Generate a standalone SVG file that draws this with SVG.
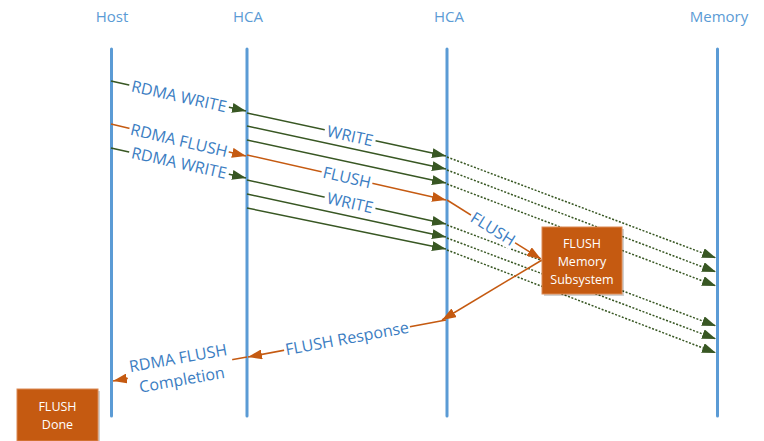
<svg xmlns="http://www.w3.org/2000/svg" width="764" height="441" viewBox="0 0 764 441">
<defs>
<style>
.life{stroke:#5B9BD5;stroke-width:3;stroke-linecap:round;fill:none}
.hdr{font-family:"Open Sans","Noto Sans",sans-serif;font-size:15px;fill:#5B9BD5;text-anchor:middle}
.g{stroke:#385723;stroke-width:1.5;fill:none;marker-end:url(#ag)}
.gd{stroke:#385723;stroke-width:1.5;fill:none;stroke-dasharray:2 1.6;marker-end:url(#ag)}
.o{stroke:#C55A11;stroke-width:1.5;fill:none;marker-end:url(#ao)}
.lbl{font-family:"Open Sans","Noto Sans",sans-serif;font-size:16px;fill:#3B7DC2;text-anchor:middle}
.bg{fill:#fff}
.box{fill:#C55A11;stroke:#DC8A55;stroke-width:1}
.shadow{fill:#000;opacity:0.18}
.bt{font-family:"Open Sans","Noto Sans",sans-serif;font-size:12.5px;fill:#fff;text-anchor:middle}
</style>
<marker id="ag" viewBox="0 0 14 10" refX="14" refY="5" markerWidth="14" markerHeight="10" markerUnits="userSpaceOnUse" orient="auto"><path d="M0,0 L14,5 L0,10 z" fill="#385723"/></marker>
<marker id="ao" viewBox="0 0 14 10" refX="14" refY="5" markerWidth="14" markerHeight="10" markerUnits="userSpaceOnUse" orient="auto"><path d="M0,0 L14,5 L0,10 z" fill="#C55A11"/></marker>
</defs>

<g id="lifelines">
<g id="host"><text class="hdr" x="112" y="22">Host</text><line class="life" x1="111.5" y1="49" x2="111.5" y2="416"/></g>
<g id="hca1"><text class="hdr" x="248" y="22">HCA</text><line class="life" x1="247" y1="49" x2="247" y2="416"/></g>
<g id="hca2"><text class="hdr" x="449" y="22">HCA</text><line class="life" x1="447" y1="49" x2="447" y2="416"/></g>
<g id="memory"><text class="hdr" x="719" y="22">Memory</text><line class="life" x1="717.5" y1="49" x2="717.5" y2="416"/></g>
</g>

<g id="connectors">
<line class="g" x1="111" y1="81" x2="246" y2="111"/>
<line class="o" x1="111" y1="124" x2="246" y2="156"/>
<line class="g" x1="111" y1="148" x2="246" y2="178"/>

<line class="g" x1="247" y1="113" x2="446" y2="156"/>
<line class="g" x1="247" y1="126" x2="446" y2="169"/>
<line class="g" x1="247" y1="140" x2="446" y2="183"/>
<line class="o" x1="247" y1="155" x2="446" y2="200"/>
<line class="g" x1="247" y1="180" x2="446" y2="224"/>
<line class="g" x1="247" y1="194" x2="446" y2="237"/>
<line class="g" x1="247" y1="208" x2="446" y2="249"/>

<line class="gd" x1="447" y1="157" x2="716" y2="258"/>
<line class="gd" x1="447" y1="170" x2="716" y2="272"/>
<line class="gd" x1="447" y1="184" x2="716" y2="286"/>
<line class="gd" x1="447" y1="225" x2="716" y2="326"/>
<line class="gd" x1="447" y1="238" x2="716" y2="339"/>
<line class="gd" x1="447" y1="250" x2="716" y2="353"/>

<line class="o" x1="447" y1="200" x2="541" y2="259"/>
<line class="o" x1="542" y1="260" x2="442" y2="320"/>
<line class="o" x1="446" y1="320" x2="248" y2="357"/>
<line class="o" x1="247" y1="357" x2="113" y2="381"/>

<g transform="translate(179,96.5) rotate(12.6)"><rect class="bg" x="-51" y="-9" width="102" height="18"/><text class="lbl" y="5.5">RDMA WRITE</text></g>
<g transform="translate(179,140.5) rotate(13.3)"><rect class="bg" x="-51" y="-9" width="102" height="18"/><text class="lbl" y="5.5">RDMA FLUSH</text></g>
<g transform="translate(179,163) rotate(12.5)"><rect class="bg" x="-51" y="-9" width="102" height="18"/><text class="lbl" y="5.5">RDMA WRITE</text></g>
<g transform="translate(350,136) rotate(12.5)"><rect class="bg" x="-26" y="-9" width="52" height="18"/><text class="lbl" y="5.5">WRITE</text></g>
<g transform="translate(347,177.5) rotate(12.7)"><rect class="bg" x="-26" y="-9" width="52" height="18"/><text class="lbl" y="5.5">FLUSH</text></g>
<g transform="translate(350,203) rotate(12.7)"><rect class="bg" x="-26" y="-9" width="52" height="18"/><text class="lbl" y="5.5">WRITE</text></g>
<g transform="translate(493,229) rotate(32)"><rect class="bg" x="-26" y="-9" width="52" height="18"/><text class="lbl" y="5.5">FLUSH</text></g>
<g transform="translate(347,338.5) rotate(-10.5)"><rect class="bg" x="-64" y="-9" width="128" height="18"/><text class="lbl" y="5.5">FLUSH Response</text></g>
<g transform="translate(180,369) rotate(-10)"><rect class="bg" x="-53" y="-21" width="106" height="42"/><text class="lbl" y="-5.5">RDMA FLUSH</text><text class="lbl" y="16.5">Completion</text></g>
</g>

<g id="flush-memory-subsystem">
<rect class="shadow" x="544" y="229" width="80" height="67"/>
<rect class="box" x="542" y="227" width="80" height="67"/>
<text class="bt" x="582" y="247.5">FLUSH</text>
<text class="bt" x="582" y="266">Memory</text>
<text class="bt" x="582" y="284">Subsystem</text>
</g>

<g id="flush-done">
<rect class="shadow" x="19" y="391" width="81" height="52"/>
<rect class="box" x="17" y="389" width="81" height="52"/>
<text class="bt" x="57.5" y="410.5">FLUSH</text>
<text class="bt" x="57.5" y="428.5">Done</text>
</g>
</svg>
